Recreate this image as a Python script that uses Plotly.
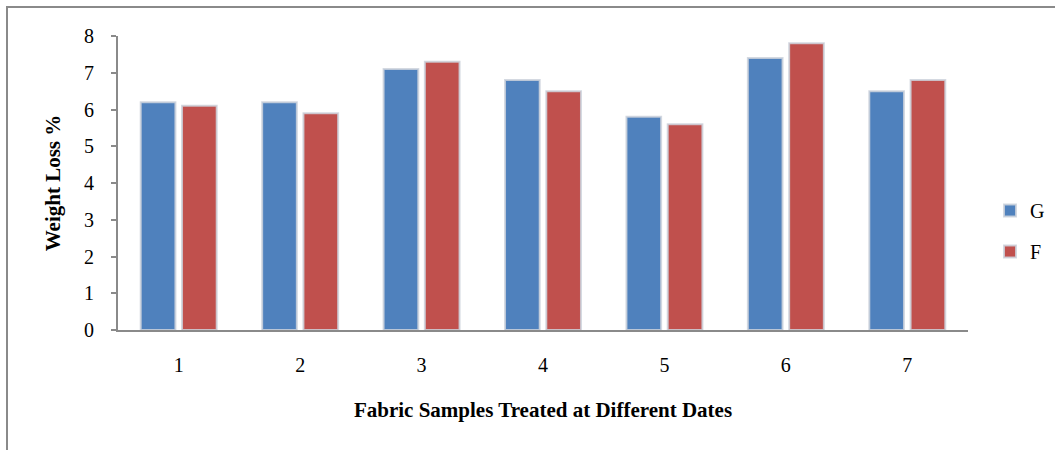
import plotly.graph_objects as go

# Fabric samples treated on different dates, weight loss (%) per treatment
samples = ["1", "2", "3", "4", "5", "6", "7"]
g_values = [6.2, 6.2, 7.1, 6.8, 5.8, 7.4, 6.5]
f_values = [6.1, 5.9, 7.3, 6.5, 5.6, 7.8, 6.8]
y_ticks = [0, 1, 2, 3, 4, 5, 6, 7, 8]

W, H = 1055, 450
ML, MR, MT, MB = 118, 87, 36, 120
pw, ph = W - ML - MR, H - MT - MB

font_family = "Liberation Serif, Times New Roman, serif"
edge = dict(color="rgba(205,210,220,0.85)", width=2)

fig = go.Figure()
fig.add_trace(go.Bar(x=samples, y=g_values, name="G", legendgroup="g",
                     marker=dict(color="#4F81BD", line=edge)))
fig.add_trace(go.Bar(x=samples, y=f_values, name="F", legendgroup="f",
                     marker=dict(color="#C0504D", line=edge)))

# outer chart frame (extends past the right and bottom of the page)
def px_x(v):
    return (v - ML) / pw

def px_y(v):
    return (H - MB - v) / ph

fig.add_shape(type="rect", xref="paper", yref="paper",
              x0=px_x(7), x1=px_x(W + 20), y0=px_y(H + 20), y1=px_y(7),
              line=dict(color="#8a8a8a", width=2), fillcolor="rgba(0,0,0,0)",
              layer="below")

fig.update_layout(
    width=W, height=H,
    margin=dict(l=ML, r=MR, t=MT, b=MB, pad=0, autoexpand=False),
    paper_bgcolor="white", plot_bgcolor="white",
    barmode="group", bargap=0.32, bargroupgap=0.16,
    font=dict(family=font_family, size=20, color="black"),
    showlegend=True,
    legend=dict(x=px_x(990), y=px_y(231), xanchor="left", yanchor="middle",
                font=dict(size=20), tracegroupgap=12, itemwidth=30,
                bgcolor="rgba(0,0,0,0)"),
    xaxis=dict(
        type="category", range=[-0.5, 6.5],
        showline=True, linecolor="#8a8a8a", linewidth=2,
        ticks="", showgrid=False, ticklabelstandoff=16,
        tickfont=dict(size=20),
        title=dict(text="<b>Fabric Samples Treated at Different Dates</b>",
                   font=dict(size=21), standoff=27),
    ),
    yaxis=dict(
        range=[0, 8], tickvals=y_ticks,
        showline=True, linecolor="#8a8a8a", linewidth=2,
        ticks="outside", ticklen=5, tickcolor="#8a8a8a", tickwidth=2,
        showgrid=False, zeroline=False, ticklabelstandoff=13,
        tickfont=dict(size=20),
        title=dict(text="<b>Weight Loss %</b>", font=dict(size=21), standoff=18),
    ),
)

fig.write_html("out.html")
